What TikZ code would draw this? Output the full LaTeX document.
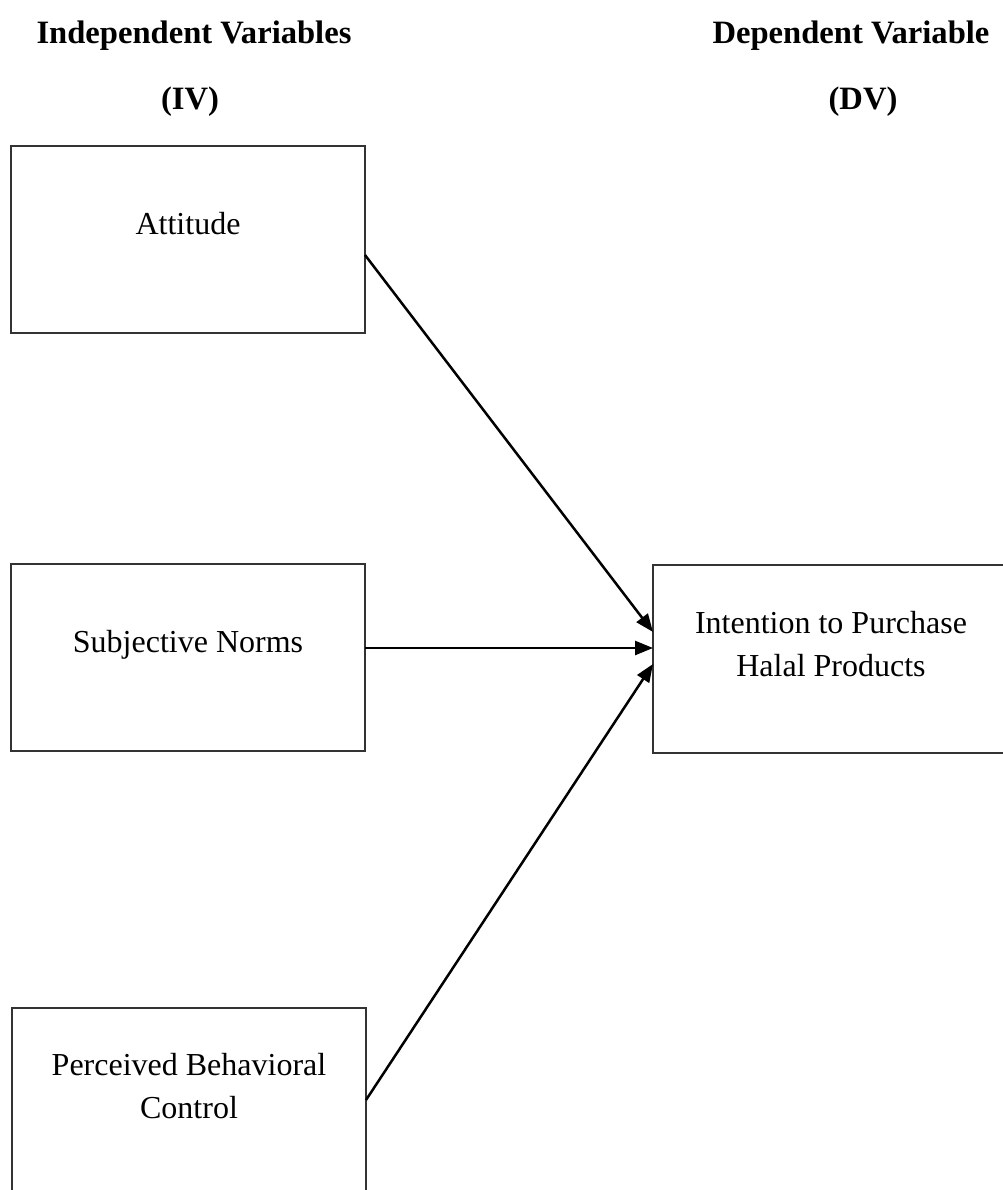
\documentclass[tikz,border=0pt]{standalone}
\usepackage{fontspec}
\setmainfont{Liberation Serif}
\usetikzlibrary{arrows.meta}
\begin{document}
\begin{tikzpicture}[x=1pt,y=-1pt,
  varbox/.style={draw=black!80, line width=1.4pt, minimum width=354pt, minimum height=187pt, inner sep=0pt, outer sep=0pt, anchor=north west},
  boxtext/.style={font=\fontsize{32}{43}\selectfont, align=center, anchor=base, inner sep=0pt},
  title/.style={font=\fontsize{32.6}{40}\selectfont\bfseries, anchor=base, inner sep=0pt},
  link/.style={line width=2.5pt, -{Triangle[length=18pt,width=14pt]}}]
\useasboundingbox (0,0) rectangle (1002,1190);
\fill[white] (0,0) rectangle (1002,1190);
% titles
\node[title] (ivt) at (194,44) {Independent Variables};
\node[title] (ivs) at (190,110) {(IV)};
\node[title] (dvt) at (851,44) {Dependent Variable};
\node[title] (dvs) at (863,110) {(DV)};
% boxes
\node[varbox] (att) at (11,146) {};
\node[varbox] (sn) at (11,564) {};
\node[varbox] (pbc) at (12,1008) {};
\node[varbox, minimum width=357pt, minimum height=188pt] (int) at (653,565) {};
% texts (anchor base = baseline of last line)
\node[boxtext] (attl) at (188,235) {Attitude};
\node[boxtext] (snl) at (188,652) {Subjective Norms};
\node[boxtext] (pbcl) at (189,1118) {Perceived Behavioral\\Control};
\node[boxtext] (intl) at (831,676) {Intention to Purchase\\Halal Products};
% connector ends
\coordinate (a1) at ([yshift=-15.5pt]att.east);
\coordinate (a2) at (sn.east |- 0,648);
\coordinate (a3) at (pbc.east |- 0,1100);
\coordinate (b1) at (int.west |- 0,632);
\coordinate (b2) at (int.west |- 0,648);
\coordinate (b3) at (int.west |- 0,664);
\draw[link] (a1) -- (b1);
\draw[link] (a2) -- (b2);
\draw[link] (a3) -- (b3);
\end{tikzpicture}
\end{document}
